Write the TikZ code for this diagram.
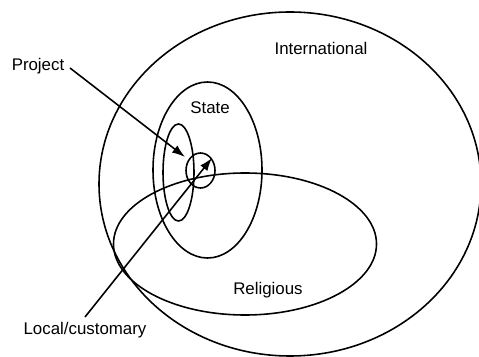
\documentclass[tikz,border=0pt]{standalone}
\usepackage{fontspec}
\setmainfont{Liberation Sans}
\usetikzlibrary{arrows.meta, positioning}

\begin{document}
\begin{tikzpicture}[x=0.02cm, y=-0.02cm, line width=0.9pt,
    lbl/.style={font=\fontsize{9.6}{11}\selectfont, inner sep=1pt},
    pointer/.style={-{Latex[length=2.6mm, width=1.8mm]}}]
  \useasboundingbox (0,0) rectangle (479,357);
  % rings
  \begin{scope}
    \clip (0,0) rectangle (479,357);
    \draw (290,184) ellipse [x radius=191, y radius=172];
  \end{scope}
  \draw (207.5,170) ellipse [x radius=54.5, y radius=88];
  \draw (178.5,172.5) ellipse [x radius=15.5, y radius=48.5];
  \draw (200.5,170.5) ellipse [x radius=14.5, y radius=17.5];
  \draw (245,244) ellipse [x radius=131.5, y radius=71];
  % labels
  \node[lbl] (intl) at (321,48) {International};
  \node[lbl] (state) at (210,108) {State};
  \node[lbl] (relig) at (268,290) {Religious};
  \node[lbl] (proj) at (38,66) {Project};
  \node[lbl] (local) at (85,330) {Local/customary};
  % arrows
  \coordinate (projtip) at (185,157);
  \coordinate (localtip) at (212,158);
  \coordinate (projtail) at (70,68);
  \coordinate (localtail) at (85,317);
  \draw[pointer] (projtail) -- (projtip);
  \draw[pointer] (localtail) -- (localtip);
\end{tikzpicture}
\end{document}
